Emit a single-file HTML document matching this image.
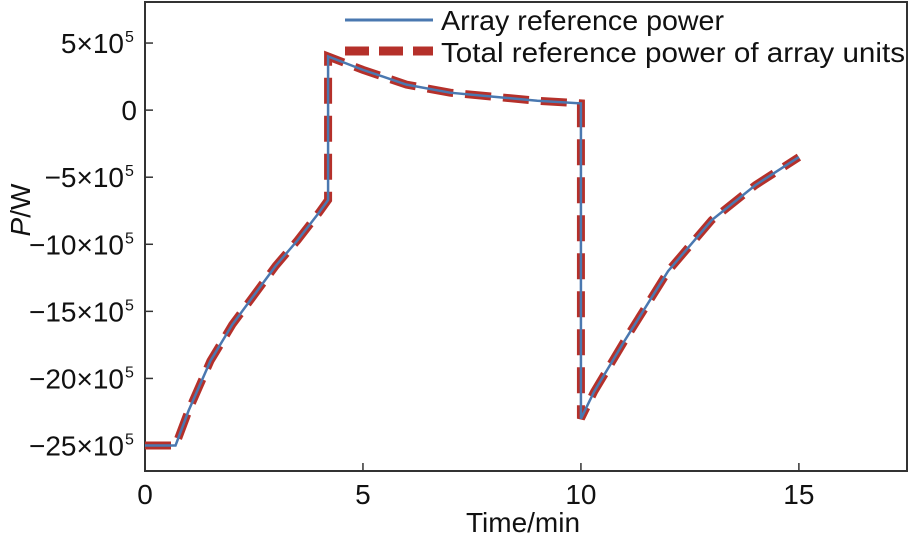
<!DOCTYPE html>
<html><head><meta charset="utf-8"><style>
body{margin:0;background:#fff}
svg{display:block;font-family:"Liberation Sans",sans-serif}
</style></head><body>
<svg id="c" width="909" height="535"></svg>
<script>
const tData=[0,0.7,1,1.5,2,2.5,3,3.5,4,4.2,4.2,5,6,7,8,9,10,10,10.3,11,12,13,14,15];
const pData=[-25,-25,-22.4,-18.7,-16,-13.8,-11.6,-9.7,-7.6,-6.7,4.0,3.0,1.9,1.3,1.0,0.7,0.5,-23,-21,-17.2,-12,-8.2,-5.6,-3.5];
const xTicks=[0,5,10,15];
const yTicks=[5,0,-5,-10,-15,-20,-25];
const L=145,R=907,T=2,B=471;
const xMin=0,xMax=17.48,yMin=-26.9,yMax=8.06;
const X=v=>L+(v-xMin)/(xMax-xMin)*(R-L);
const Y=v=>B-(v-yMin)/(yMax-yMin)*(B-T);
const ns="http://www.w3.org/2000/svg",svg=document.getElementById('c');
function mk(tag,a,p){const e=document.createElementNS(ns,tag);for(const k in a)e.setAttribute(k,a[k]);(p||svg).appendChild(e);return e;}
const frame=mk('rect',{x:L,y:T,width:R-L,height:B-T,fill:'none',stroke:'#333','stroke-width':2});


xTicks.forEach(v=>{
  const t=mk('line',{x1:X(v),x2:X(v),y1:B,y2:B-8,stroke:'#333','stroke-width':1.5});
  
  
  const l=mk('text',{x:X(v),y:504,'text-anchor':'middle','font-size':28,fill:'#111'});
  l.textContent=v;
  
  
});
yTicks.forEach(v=>{
  const t=mk('line',{x1:L,x2:L+8,y1:Y(v),y2:Y(v),stroke:'#333','stroke-width':1.5});
  
  
  const l=mk('text',{x:v===0?137:124,y:Y(v)+10,'text-anchor':'end','font-size':28,fill:'#111'});
  
  
  if(v===0){l.textContent='0';}
  else{
    l.textContent=(v<0?'\u2212':'')+Math.abs(v)+'\u00d710';
    const s=mk('text',{x:125,y:Y(v)-1,'font-size':16,fill:'#111'});
    s.textContent='5';
    
    
  }
});
const pts=tData.map((t,i)=>X(t)+','+Y(pData[i])).join(' ');
const red=mk('polyline',{points:pts,fill:'none',stroke:'#b5302a','stroke-width':8,'stroke-dasharray':'26,12'});


const blue=mk('polyline',{points:pts,fill:'none',stroke:'#4a78b0','stroke-width':2.5});


const lb=mk('line',{x1:345,x2:433,y1:20,y2:20,stroke:'#4a78b0','stroke-width':3});


const lr=mk('line',{x1:345,x2:433,y1:51,y2:51,stroke:'#b5302a','stroke-width':9,'stroke-dasharray':'24,10'});


const t1=mk('text',{x:441,y:30,'font-size':28,fill:'#111',textLength:283,lengthAdjust:'spacingAndGlyphs'});
t1.textContent='Array reference power';


const t2=mk('text',{x:441,y:62,'font-size':28,fill:'#111',textLength:464,lengthAdjust:'spacingAndGlyphs'});
t2.textContent='Total reference power of array units';


const xt=mk('text',{x:523,y:532,'text-anchor':'middle','font-size':28,fill:'#111'});
xt.textContent='Time/min';


const yt=mk('text',{x:0,y:0,'text-anchor':'middle','font-size':28,fill:'#111',transform:'translate(30,210) rotate(-90)'});
yt.innerHTML='<tspan font-style="italic">P</tspan>/W';


</script>
</body></html>
